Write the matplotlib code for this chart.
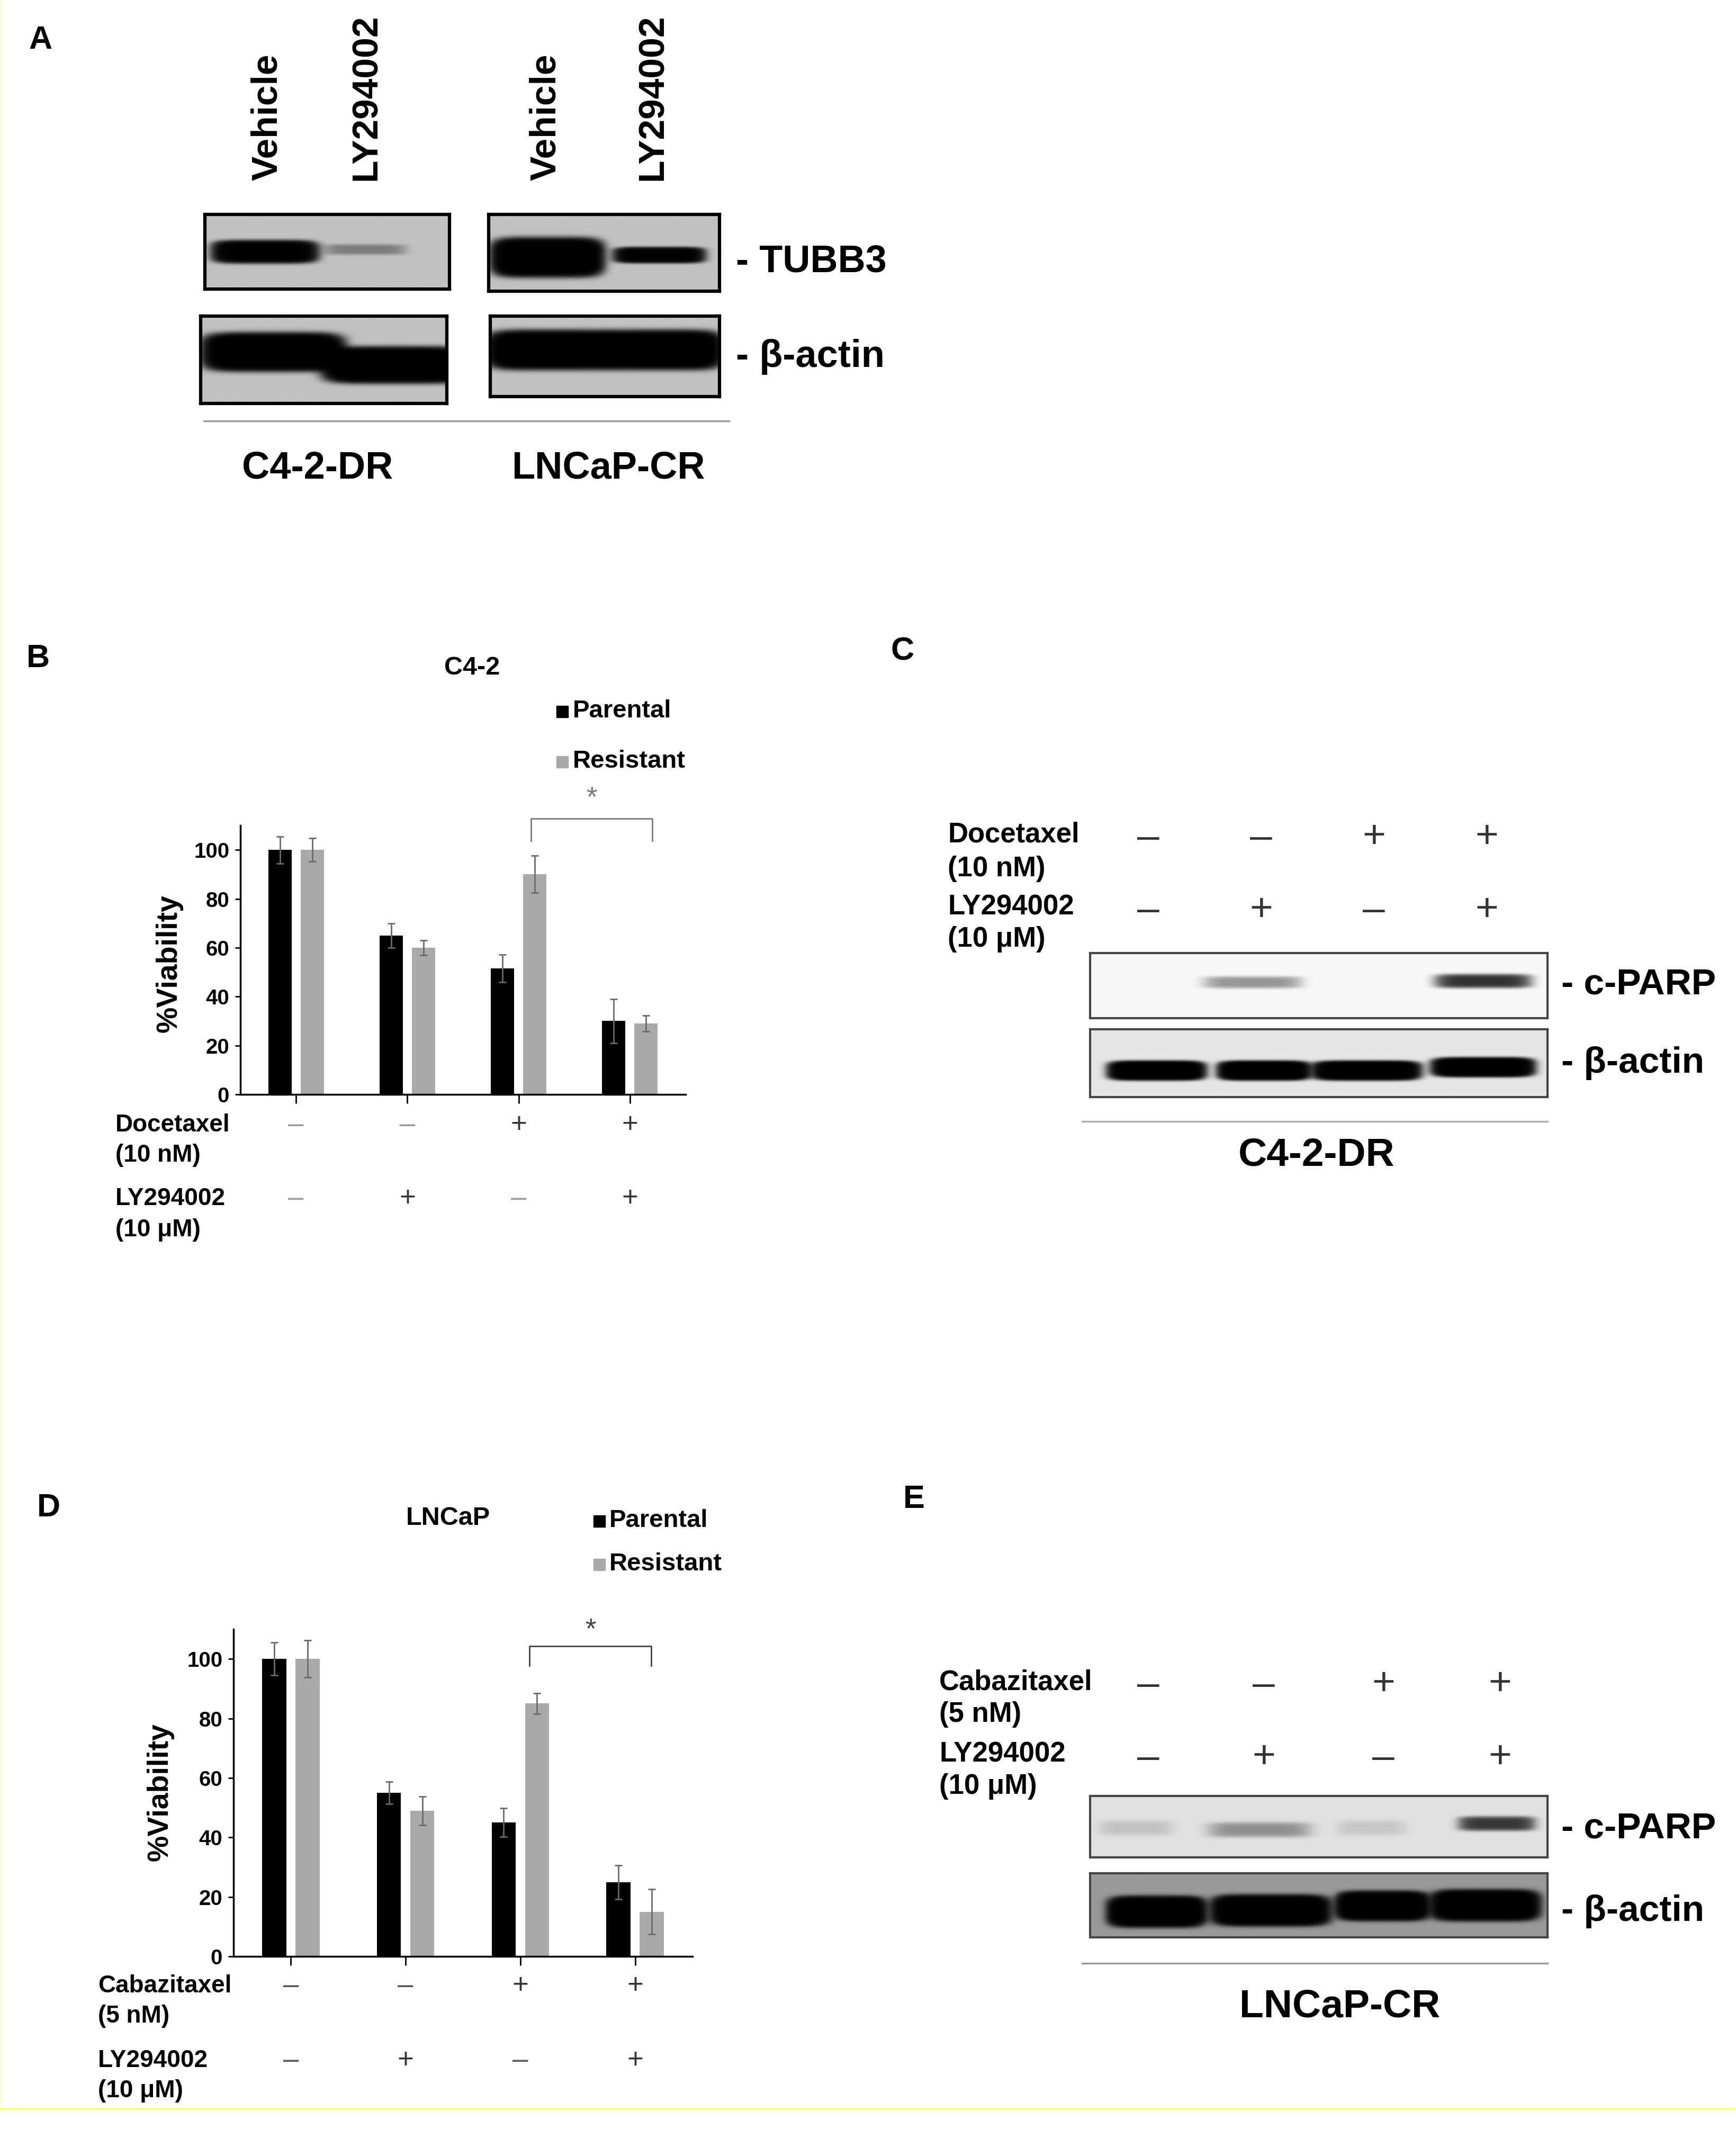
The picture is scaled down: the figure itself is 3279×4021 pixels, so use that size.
import numpy as np
import matplotlib
matplotlib.use('Agg')
import matplotlib.pyplot as plt
import matplotlib.transforms as mtransforms
from matplotlib.lines import Line2D
from matplotlib.patches import Rectangle

W, H = 3279, 4021
plt.rcParams['font.family'] = ['Liberation Sans', 'DejaVu Sans']
NARROW = ['Liberation Sans Narrow', 'Liberation Sans', 'DejaVu Sans']

# ---- viability data (% of vehicle) ----
treatments = ['Vehicle', 'LY294002', 'Taxane', 'Taxane + LY294002']
c42_parental = [100, 65, 51.5, 30]
c42_parental_err = [5.5, 5, 5.7, 9]
c42_resistant = [100, 60, 90, 29]
c42_resistant_err = [4.7, 3, 7.6, 3.3]
lncap_parental = [100, 55, 45, 25]
lncap_parental_err = [5.5, 3.7, 4.8, 5.7]
lncap_resistant = [100, 49, 85, 15]
lncap_resistant_err = [6.2, 4.8, 3.5, 7.6]
taxane_signs = ['–', '–', '+', '+']
ly_signs = ['–', '+', '–', '+']

# ---- western blot band intensities (relative density) ----
tubb3_c42dr = [6.0, 0.45]
tubb3_lncapcr = [9.0, 5.0]
actin_c42dr_a = [9.0, 9.0]
actin_lncapcr_a = [9.0, 9.0]
cparp_c42dr = [0.0, 0.5, 0.0, 1.6]
actin_c42dr_c = [8.0, 8.0, 8.0, 8.0]
cparp_lncapcr = [0.15, 0.45, 0.12, 1.4]
actin_lncapcr_e = [9.0, 9.0, 9.0, 9.0]

fig = plt.figure(figsize=(W / 100, H / 100), dpi=100)
fig.patch.set_facecolor('white')


def fx(px):
    return px / W


def fy(py):
    return 1 - py / H


def rect(x0, y0, x1, y1):
    return [fx(x0), fy(y1), (x1 - x0) / W, (y1 - y0) / H]


def ftext(x, y, s, size, family=None, **kw):
    kw.setdefault('fontweight', 'bold')
    if family is not None:
        kw['family'] = family
    fig.text(fx(x), fy(y), s, fontsize=size, **kw)


def blot(box, bg, lanes, amps, edge='black', lw=4.5):
    # lanes: (x0, x1, yc, half height) in box fractions, y from top
    ax = fig.add_axes(rect(*box))
    X, Y = np.meshgrid(np.linspace(0, 1, 500), np.linspace(0, 1, 160))
    dens = np.zeros_like(X)
    for (x0, x1, yc, hh), a in zip(lanes, amps):
        xc, xw = (x0 + x1) / 2, (x1 - x0) / 2
        dens += a * np.exp(-np.abs((X - xc) / xw) ** 6) * np.exp(-np.abs((Y - yc) / hh) ** 4)
    img = bg * np.exp(-dens)
    ax.imshow(img, cmap='gray', vmin=0, vmax=1, extent=(0, 1, 0, 1),
              aspect='auto', interpolation='bilinear')
    ax.set_xticks([])
    ax.set_yticks([])
    for s in ax.spines.values():
        s.set_linewidth(lw)
        s.set_edgecolor(edge)
    return ax


def viability(box, parental, p_err, resistant, r_err, bracket, star_y, ecol):
    ax = fig.add_axes(rect(*box))
    x = np.arange(len(parental))
    ekw = dict(ecolor='#6a6a6a', elinewidth=2, capsize=5, capthick=2)
    ax.bar(x - 0.145, parental, 0.21, color='black', yerr=p_err, error_kw=ekw)
    ax.bar(x + 0.145, resistant, 0.21, color='#a9a9a9', yerr=r_err, error_kw=ekw)
    ax.set_xlim(-0.5, 3.5)
    ax.set_ylim(0, 110)
    ax.spines[['top', 'right']].set_visible(False)
    ax.spines['left'].set_linewidth(2.5)
    ax.spines['bottom'].set_linewidth(2.5)
    ax.set_yticks(range(0, 101, 20))
    ax.set_xticks(x)
    ax.set_xticklabels([])
    ax.tick_params(axis='y', length=7, width=2, labelsize=29, pad=8)
    ax.tick_params(axis='x', length=12, width=2)
    for t in ax.get_yticklabels():
        t.set_family(NARROW)
        t.set_fontweight('bold')
    x0, x1, ylo, yhi = bracket
    ax.plot([x0, x0, x1, x1], [ylo, yhi, yhi, ylo], color=ecol, lw=2, clip_on=False)
    ax.text((x0 + x1) / 2, star_y, '*', ha='center', va='center',
            fontsize=38, color=ecol, clip_on=False)
    return ax


def sign_row(ax, signs, ypx, size, minus_col, plus_col):
    tr = mtransforms.blended_transform_factory(ax.transData, fig.transFigure)
    for i, s in enumerate(signs):
        ax.text(i, fy(ypx), s, transform=tr, ha='center', va='center', fontsize=size,
                color=minus_col if s == '–' else plus_col)


def sign_row_px(xs, signs, ypx, size, col):
    for xp, s in zip(xs, signs):
        ftext(xp, ypx, s, size, ha='center', va='center', color=col, fontweight='normal')


# ---------------- Panel A ----------------
ftext(77, 77, 'A', 44, ha='center', va='center')
for xp, lab in zip([505, 692, 1031, 1233], ['Vehicle', 'LY294002', 'Vehicle', 'LY294002']):
    ftext(xp, 341, lab, 50, rotation=90, rotation_mode='anchor', ha='left', va='center')

lanes2 = [(0.05, 0.44, 0.50, 0.13), (0.49, 0.82, 0.47, 0.07)]
blot((387, 405, 849, 546), 0.76, lanes2, tubb3_c42dr)
lanes2 = [(0.04, 0.47, 0.56, 0.21), (0.56, 0.92, 0.53, 0.09)]
blot((923, 405, 1359, 550), 0.76, lanes2, tubb3_lncapcr)
lanes2 = [(0.04, 0.55, 0.41, 0.18), (0.53, 1.05, 0.56, 0.17)]
blot((379, 597, 844, 762), 0.76, lanes2, actin_c42dr_a)
lanes2 = [(0.02, 0.53, 0.42, 0.2), (0.50, 0.98, 0.42, 0.2)]
blot((926, 597, 1359, 749), 0.76, lanes2, actin_lncapcr_a)
ftext(1390, 495, '- TUBB3', 52, family=NARROW, va='center')
ftext(1390, 674, '- β-actin', 52, family=NARROW, va='center')
fig.add_artist(Line2D([fx(385), fx(1377)], [fy(795), fy(795)], color='#9a9a9a', lw=2.5))
ftext(600, 885, 'C4-2-DR', 52, family=NARROW, ha='center', va='center')
ftext(1149, 885, 'LNCaP-CR', 52, family=NARROW, ha='center', va='center')

# ---------------- Panel B ----------------
ftext(72, 1244, 'B', 44, ha='center', va='center')
axB = viability((454, 1559, 1295, 2067), c42_parental, c42_parental_err,
                c42_resistant, c42_resistant_err, (2.11, 3.2, 103.7, 112.8), 121, '#7a7a7a')
ftext(892, 1261, 'C4-2', 35, ha='center', va='center')
fig.add_artist(Rectangle((fx(1051), fy(1355)), 22 / W, 22 / H, color='black'))
ftext(1082, 1343, 'Parental', 34, va='center')
fig.add_artist(Rectangle((fx(1051), fy(1450)), 22 / W, 22 / H, color='#a9a9a9'))
ftext(1082, 1438, 'Resistant', 34, va='center')
ftext(320, 1820, '%Viability', 40, family=NARROW, rotation=90, ha='center', va='center')
ftext(218, 2125, 'Docetaxel', 33, va='center')
ftext(218, 2182, '(10 nM)', 33, va='center')
ftext(218, 2264, 'LY294002', 33, va='center')
ftext(218, 2323, '(10 μM)', 33, va='center')
sign_row(axB, taxane_signs, 2125, 38, '#9a9a9a', '#333333')
sign_row(axB, ly_signs, 2264, 38, '#9a9a9a', '#333333')

# ---------------- Panel C ----------------
ftext(1705, 1231, 'C', 44, ha='center', va='center')
ftext(1790, 1577, 'Docetaxel', 38, va='center')
ftext(1790, 1641, '(10 nM)', 38, va='center')
ftext(1790, 1713, 'LY294002', 38, va='center')
ftext(1790, 1774, '(10 μM)', 38, va='center')
lane_x_c = [2169, 2382, 2595, 2808]
sign_row_px(lane_x_c, taxane_signs, 1582, 54, '#333333')
sign_row_px(lane_x_c, ly_signs, 1720, 54, '#333333')
lanes4 = [(0.05, 0.24, 0.45, 0.09), (0.25, 0.46, 0.45, 0.09),
          (0.50, 0.71, 0.45, 0.09), (0.76, 0.96, 0.43, 0.1)]
blot((2059, 1800, 2923, 1923), 0.97, lanes4, cparp_c42dr, edge='#444444', lw=3)
lanes4 = [(0.05, 0.24, 0.61, 0.12), (0.29, 0.47, 0.61, 0.12),
          (0.50, 0.71, 0.61, 0.12), (0.76, 0.96, 0.56, 0.12)]
blot((2059, 1944, 2923, 2072), 0.9, lanes4, actin_c42dr_c, edge='#444444', lw=3)
ftext(2949, 1859, '- c-PARP', 50, family=NARROW, va='center')
ftext(2949, 2008, '- β-actin', 50, family=NARROW, va='center')
fig.add_artist(Line2D([fx(2044), fx(2923)], [fy(2118), fy(2118)], color='#b0b0b0', lw=2.5))
ftext(2487, 2182, 'C4-2-DR', 54, family=NARROW, ha='center', va='center')

# ---------------- Panel D ----------------
ftext(92, 2849, 'D', 44, ha='center', va='center')
axD = viability((441, 3077, 1308, 3695), lncap_parental, lncap_parental_err,
                lncap_resistant, lncap_resistant_err, (2.08, 3.14, 97.8, 104.3), 109.6, '#444444')
ftext(846, 2867, 'LNCaP', 35, ha='center', va='center')
fig.add_artist(Rectangle((fx(1121), fy(2884)), 22 / W, 22 / H, color='black'))
ftext(1151, 2872, 'Parental', 34, va='center')
fig.add_artist(Rectangle((fx(1121), fy(2966)), 22 / W, 22 / H, color='#a9a9a9'))
ftext(1151, 2954, 'Resistant', 34, va='center')
ftext(303, 3385, '%Viability', 40, family=NARROW, rotation=90, ha='center', va='center')
ftext(185, 3751, 'Cabazitaxel', 33, va='center')
ftext(185, 3808, '(5 nM)', 33, va='center')
ftext(185, 3892, 'LY294002', 33, va='center')
ftext(185, 3949, '(10 μM)', 33, va='center')
sign_row(axD, taxane_signs, 3751, 38, '#555555', '#333333')
sign_row(axD, ly_signs, 3892, 38, '#555555', '#333333')

# ---------------- Panel E ----------------
ftext(1726, 2833, 'E', 44, ha='center', va='center')
ftext(1774, 3177, 'Cabazitaxel', 38, va='center')
ftext(1774, 3238, '(5 nM)', 38, va='center')
ftext(1774, 3313, 'LY294002', 38, va='center')
ftext(1774, 3374, '(10 μM)', 38, va='center')
lane_x_e = [2169, 2387, 2613, 2833]
sign_row_px(lane_x_e, taxane_signs, 3182, 54, '#333333')
sign_row_px(lane_x_e, ly_signs, 3320, 54, '#333333')
lanes4 = [(0.02, 0.18, 0.52, 0.12), (0.26, 0.48, 0.55, 0.12),
          (0.54, 0.69, 0.52, 0.12), (0.81, 0.97, 0.45, 0.11)]
blot((2059, 3392, 2923, 3508), 0.88, lanes4, cparp_lncapcr, edge='#444444', lw=3)
lanes4 = [(0.05, 0.24, 0.6, 0.2), (0.28, 0.51, 0.58, 0.2),
          (0.55, 0.73, 0.51, 0.19), (0.76, 0.97, 0.5, 0.2)]
blot((2059, 3538, 2923, 3659), 0.6, lanes4, actin_lncapcr_e, edge='#444444', lw=3)
ftext(2949, 3454, '- c-PARP', 50, family=NARROW, va='center')
ftext(2949, 3610, '- β-actin', 50, family=NARROW, va='center')
fig.add_artist(Line2D([fx(2044), fx(2923)], [fy(3708), fy(3708)], color='#9a9a9a', lw=2.5))
ftext(2531, 3790, 'LNCaP-CR', 54, family=NARROW, ha='center', va='center')

# thin yellow frame from the source page
fig.add_artist(Line2D([fx(3), fx(3)], [fy(0), fy(3983)], color='#ffffa8', lw=1.5))
fig.add_artist(Line2D([fx(0), fx(W)], [fy(3983), fy(3983)], color='#ffff66', lw=2.5))

fig.savefig('out.png', dpi=100, facecolor='white')
